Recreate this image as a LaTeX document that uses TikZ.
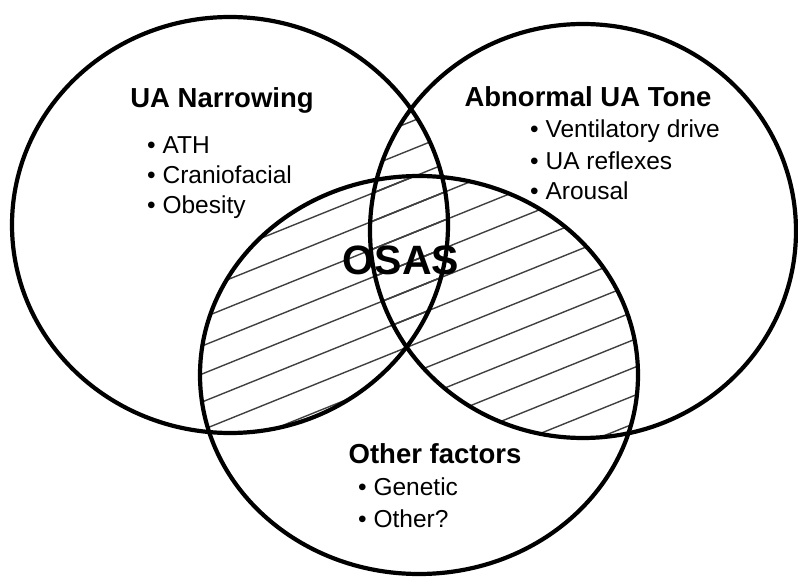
\documentclass[tikz,border=0pt]{standalone}
\usepackage{fontspec}
\setmainfont{Liberation Sans}
\usepackage{tikz}

\tikzset{
  rim/.style={black, line width=4.2pt},
  hatch/.style={black!75, line width=1.4pt},
  head/.style={font=\fontsize{27.5}{30}\selectfont\bfseries, inner sep=0pt, anchor=base},
  item/.style={font=\fontsize{24.5}{28}\selectfont, inner sep=0pt, anchor=base west}
}

\begin{document}
\begin{tikzpicture}[x=1pt,y=1pt]
\useasboundingbox (0,0) rectangle (798,-577);
% hatching: every pair of circles
\begin{scope}
\clip (230,-225) ellipse [x radius=218, y radius=208];
\clip (583,-231) ellipse [x radius=213, y radius=207];
\foreach \c in {-703,-675,...,-87}
  \draw [hatch] (150,\c) -- (700,\c+222);
\end{scope}
\begin{scope}
\clip (230,-225) ellipse [x radius=218, y radius=208];
\clip (419,-375) ellipse [x radius=219, y radius=199];
\foreach \c in {-703,-675,...,-87}
  \draw [hatch] (150,\c) -- (700,\c+222);
\end{scope}
\begin{scope}
\clip (583,-231) ellipse [x radius=213, y radius=207];
\clip (419,-375) ellipse [x radius=219, y radius=199];
\foreach \c in {-703,-675,...,-87}
  \draw [hatch] (150,\c) -- (700,\c+222);
\end{scope}
% circles
\draw [rim] (230,-225) ellipse [x radius=218, y radius=208];
\draw [rim] (583,-231) ellipse [x radius=213, y radius=207];
\draw [rim] (419,-375) ellipse [x radius=219, y radius=199];
% labels
\node [head] (narrow) at (222,-108) {UA Narrowing};
\node [item] (ath) at (147,-154) {• ATH};
\node [item] (cranio) at (147,-184) {• Craniofacial};
\node [item] (obese) at (147,-214) {• Obesity};
\node [head] (tone) at (588,-107) {Abnormal UA Tone};
\node [item] (vent) at (530,-138) {• Ventilatory drive};
\node [item] (reflex) at (530,-170) {• UA reflexes};
\node [item] (arousal) at (530,-200) {• Arousal};
\node [head, font=\fontsize{41}{44}\selectfont\bfseries] (osas) at (401,-275) {OSAS};
\node [head] (other) at (435,-463) {Other factors};
\node [item] (genetic) at (358,-495) {• Genetic};
\node [item] (otherq) at (358,-527) {• Other?};
\end{tikzpicture}
\end{document}
